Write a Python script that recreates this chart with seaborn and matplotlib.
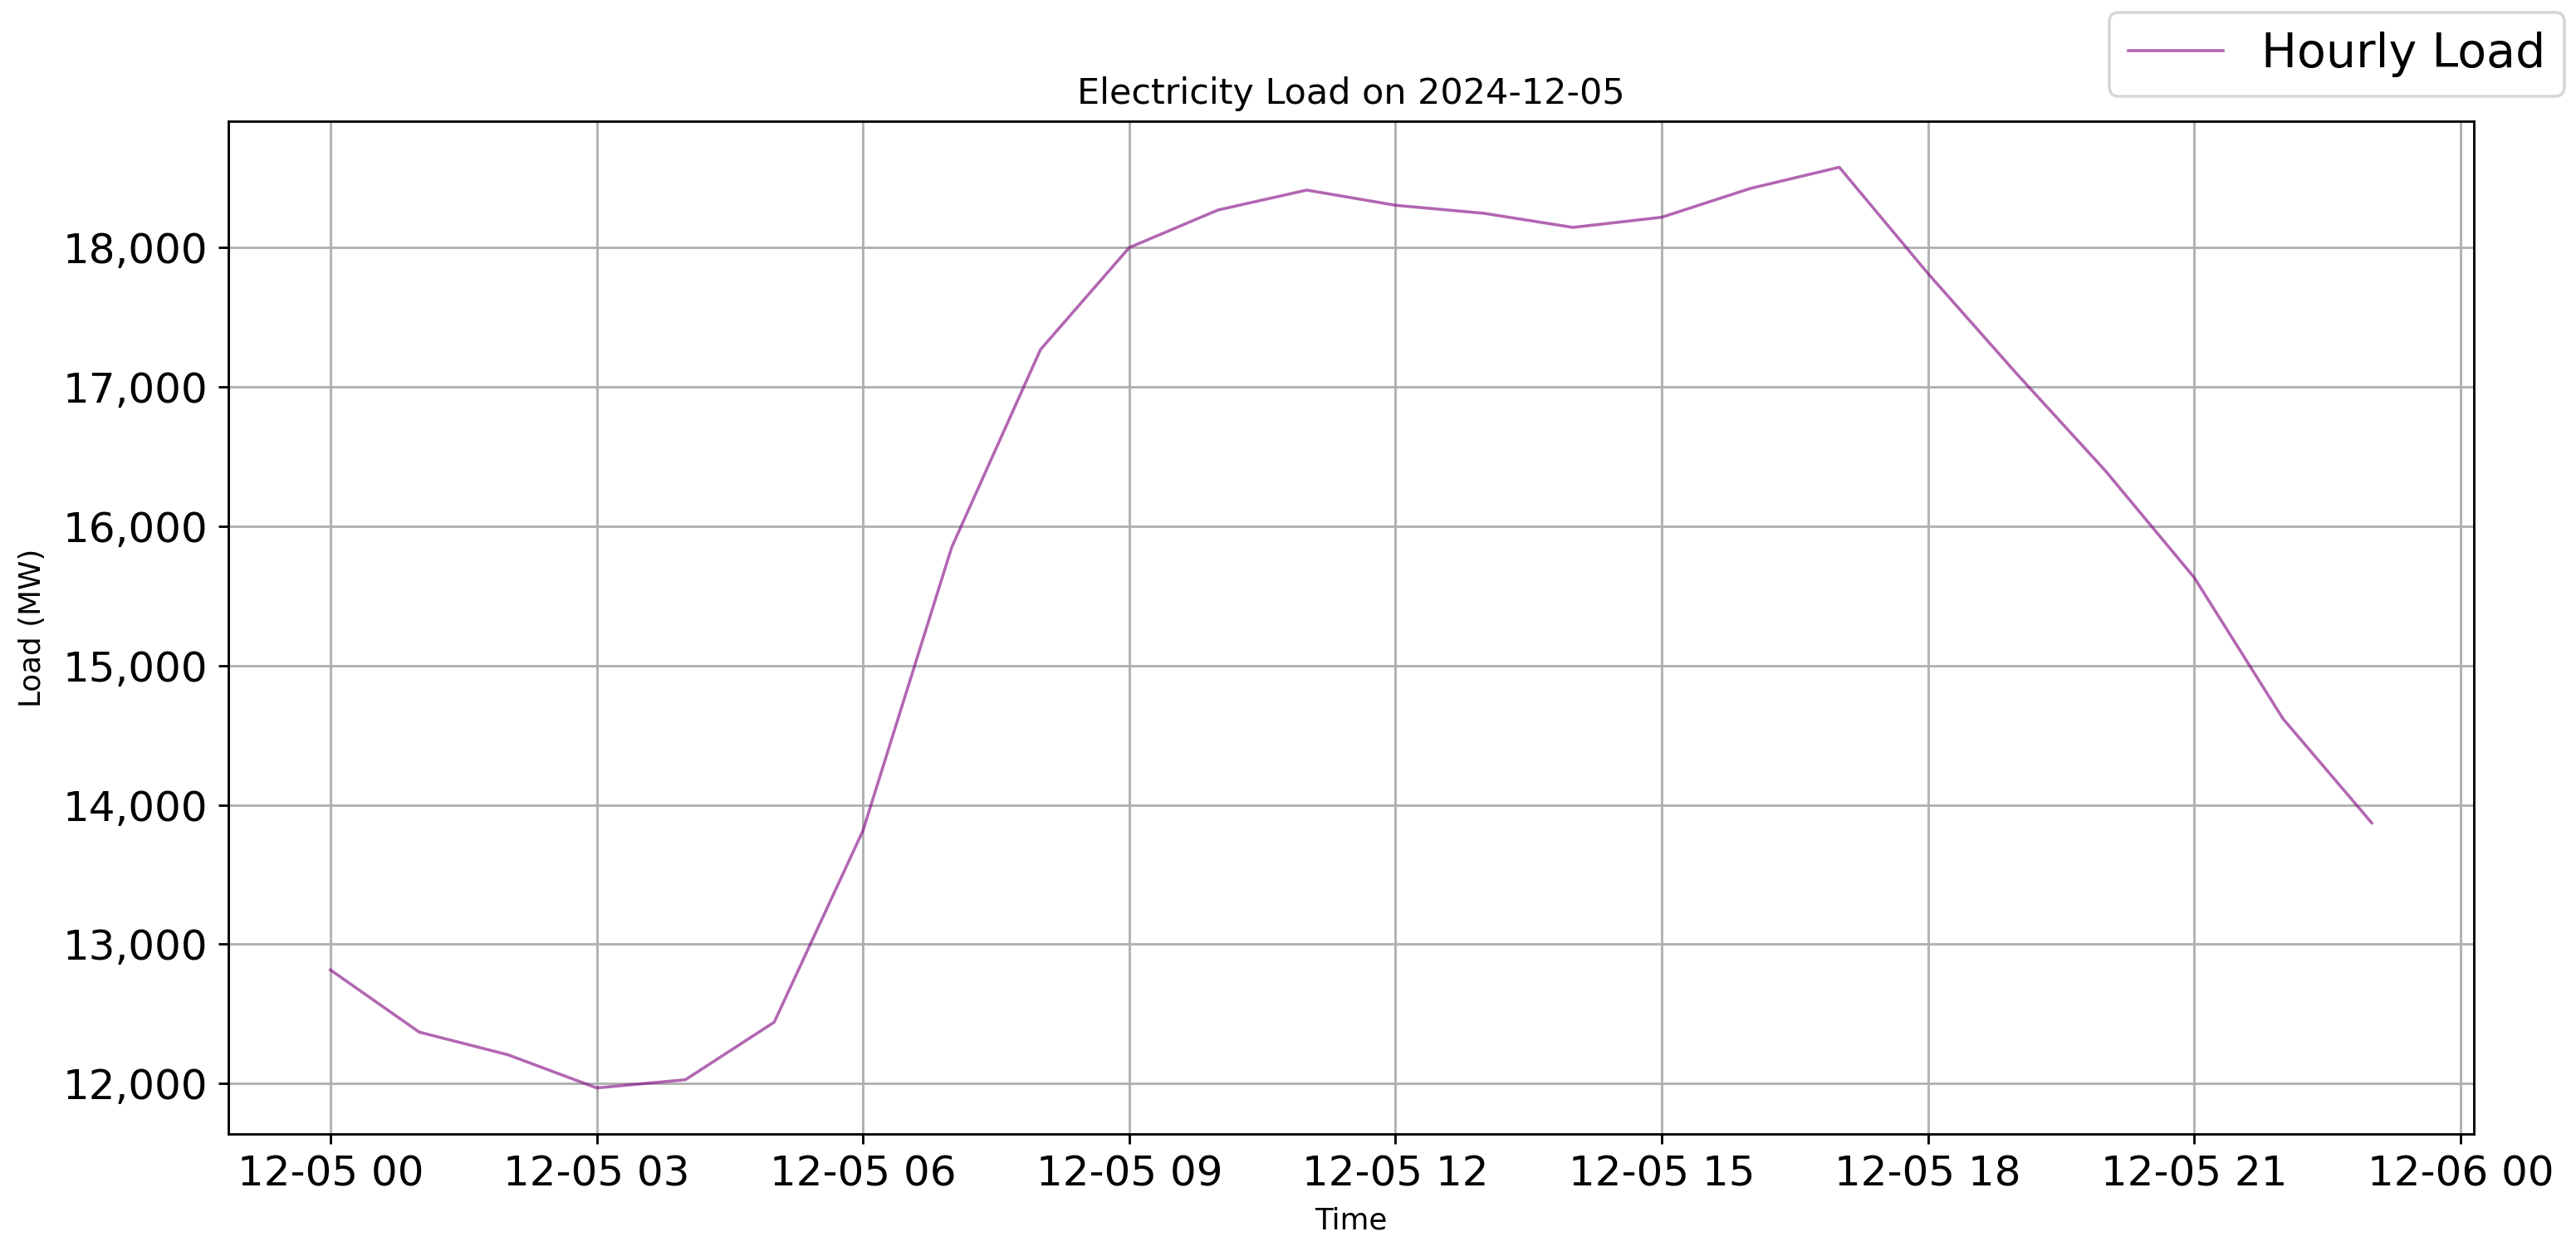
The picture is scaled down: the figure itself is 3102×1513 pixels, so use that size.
import numpy as np
import pandas as pd
import matplotlib
matplotlib.use("Agg")
import matplotlib.pyplot as plt
import matplotlib.ticker as mticker
import seaborn as sns

# ---- data ----
hours = list(range(24))
load_mw = [12815, 12369, 12206, 11968, 12027, 12440, 13815, 15849,
           17268, 18000, 18270, 18413, 18304, 18246, 18145, 18218,
           18425, 18577, 17814, 17094, 16397, 15631, 14618, 13870]
date_str = "2024-12-05"
series_label = "Hourly Load"
title_text = "Electricity Load on 2024-12-05"
xlabel_text = "Time"
ylabel_text = "Load (MW)"

times = pd.Timestamp(date_str) + pd.to_timedelta(hours, unit="h")
df = pd.DataFrame({"Time": times, "Load": load_mw})

DPI = 257
fig = plt.figure(figsize=(3102 / DPI, 1513 / DPI), dpi=DPI)
ax = fig.add_axes([275 / 3102, 1 - 1366 / 1513, (2979 - 275) / 3102, (1366 - 146) / 1513])

sns.lineplot(data=df, x="Time", y="Load", ax=ax, color="purple", alpha=0.6,
             linewidth=1.0, label=series_label, legend=False)

ax.set_title(title_text, fontsize=12)
ax.set_xlabel(xlabel_text, fontsize=10)
ax.set_ylabel(ylabel_text, fontsize=10, labelpad=5.5)
ax.tick_params(axis="both", labelsize=14)
ax.yaxis.set_major_formatter(mticker.StrMethodFormatter("{x:,.0f}"))
ax.grid(True)

handles, labels = ax.get_legend_handles_labels()
fig.legend(handles, labels, loc="upper right", fontsize=16,
           bbox_to_anchor=(3088 / 3102, 1 - 15 / 1513), borderaxespad=0)

fig.savefig("out.png", dpi=DPI)
